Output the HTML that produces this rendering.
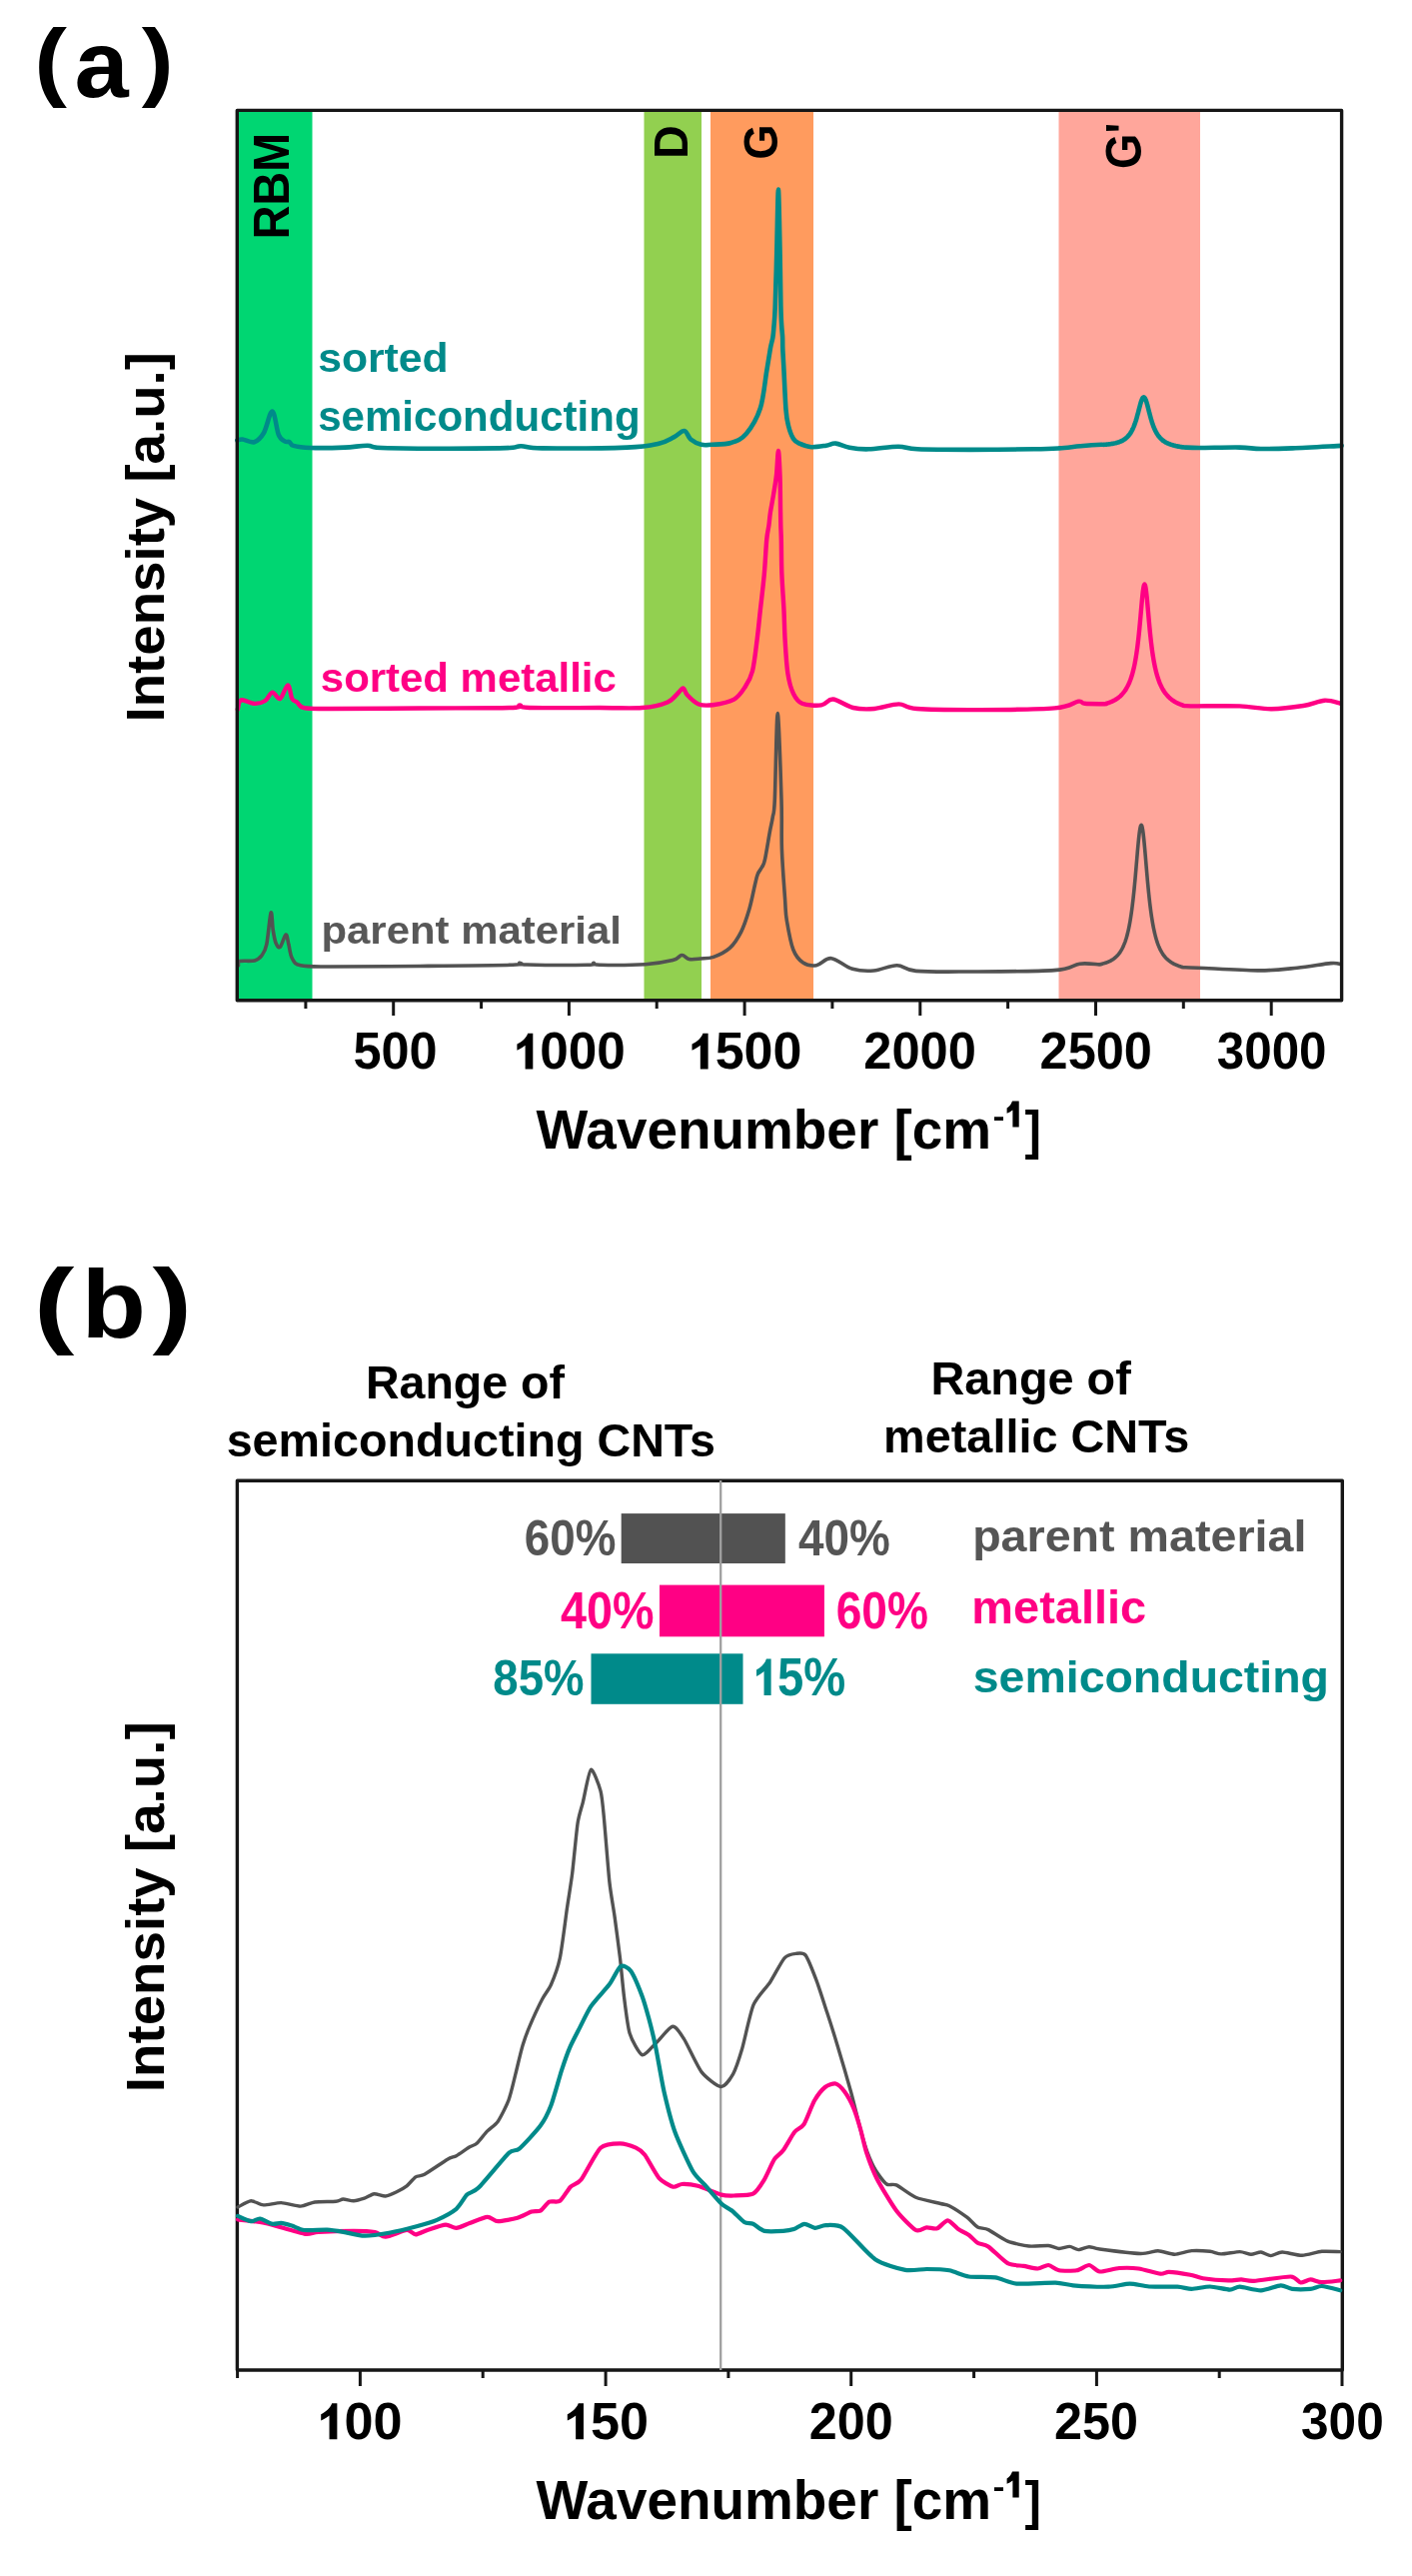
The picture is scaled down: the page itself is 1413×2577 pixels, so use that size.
<!DOCTYPE html>
<html><head><meta charset="utf-8"><title>Raman spectra</title>
<style>html,body{margin:0;padding:0;background:#fff;width:1413px;height:2577px;overflow:hidden}
body{position:relative;font-family:"Liberation Sans",sans-serif}</style></head>
<body>
<svg width="1413" height="2577" viewBox="0 0 1413 2577" style="position:absolute;left:0;top:0;filter:blur(0.55px)">
<g font-family="Liberation Sans" font-weight="bold" font-size="100">
<rect x="239" y="111" width="73.5" height="889" fill="#00d672"/>
<rect x="644.5" y="111" width="57.5" height="889" fill="#92d050"/>
<rect x="711" y="111" width="103" height="889" fill="#ff9b5e"/>
<rect x="1059.5" y="111" width="141.5" height="889" fill="#ffa69b"/>
<text transform="matrix(0 -0.46729 0.49275 0 288.50 239.27)" fill="#000" >RBM</text>
<text transform="matrix(0 -0.46393 0.47246 0 687.60 158.75)" fill="#000" >D</text>
<text transform="matrix(0 -0.45588 0.47465 0 777.53 159.82)" fill="#000" >G</text>
<text transform="matrix(0 -0.45543 0.49437 0 1142.21 169.02)" fill="#000" >G'</text>
<path d="M237.4,440.5 C238.3,440.3 239.9,439.2 242.7,439.5 C245.5,439.8 250.8,443.3 254.4,442.2 C257.9,441.1 261.0,438.1 264.0,433.0 C267.0,427.9 270.0,411.1 272.5,411.5 C275.0,411.9 276.8,430.2 278.9,435.2 C281.0,440.2 283.4,440.5 285.2,441.6 C287.0,442.7 288.1,441.3 289.5,442.0 C290.9,442.7 290.2,444.9 293.7,445.9 C297.2,446.9 302.1,447.7 310.7,448.0 C319.2,448.3 335.4,448.0 345.0,447.6 C354.6,447.2 360.8,445.7 368.0,445.8 C375.2,445.9 366.0,447.8 388.0,448.2 C410.0,448.6 477.8,448.7 500.0,448.4 C522.2,448.1 514.1,446.3 521.2,446.3 C528.3,446.3 524.8,448.2 542.5,448.4 C560.2,448.6 608.0,448.4 627.5,447.6 C647.0,446.8 651.5,445.4 659.3,443.7 C667.1,442.0 670.0,439.5 674.2,437.4 C678.5,435.3 682.0,430.6 684.8,431.0 C687.6,431.4 688.4,437.2 691.2,439.5 C694.0,441.8 698.3,443.9 701.8,444.8 C705.3,445.7 707.5,445.1 712.4,444.8 C717.3,444.5 725.7,444.8 731.4,443.0 C737.1,441.2 741.8,439.8 746.7,434.0 C751.6,428.2 757.4,418.9 760.8,408.5 C764.2,398.1 765.5,381.3 767.2,371.3 C768.9,361.3 769.9,354.3 770.9,348.6 C771.9,342.9 772.8,341.1 773.4,337.3 C774.0,333.5 774.1,331.1 774.5,326.0 C774.9,320.9 775.2,319.7 775.7,307.0 C776.2,294.3 776.8,269.6 777.3,250.0 C777.8,230.4 778.4,189.5 778.9,189.5 C779.4,189.5 780.1,230.4 780.5,250.0 C780.9,269.6 781.1,294.3 781.4,307.0 C781.7,319.7 781.9,320.9 782.2,326.0 C782.5,331.1 782.9,333.5 783.1,337.3 C783.3,341.1 783.1,342.9 783.3,348.6 C783.5,354.3 784.0,361.1 784.5,371.3 C785.0,381.5 785.8,400.9 786.5,410.0 C787.2,419.1 787.8,421.2 789.0,426.0 C790.2,430.8 792.2,436.1 794.0,439.0 C795.8,441.9 797.0,442.3 800.0,443.7 C803.0,445.1 807.4,446.9 811.9,447.2 C816.4,447.5 822.6,446.3 826.7,445.7 C830.8,445.1 832.4,443.2 836.3,443.6 C840.2,444.0 844.6,446.9 850.1,447.8 C855.6,448.8 861.1,449.5 869.2,449.3 C877.4,449.1 890.9,446.7 899.0,446.7 C907.1,446.7 906.1,448.8 918.1,449.3 C930.1,449.8 951.7,449.9 971.2,449.9 C990.7,449.9 1020.1,449.6 1034.9,449.3 C1049.7,449.1 1052.3,448.9 1060.0,448.4 C1067.7,447.9 1074.1,446.9 1081.2,446.3 C1088.3,445.7 1098.6,445.0 1102.5,444.8 C1106.4,444.6 1104.1,444.9 1104.6,444.9 C1105.1,444.9 1105.3,444.8 1105.6,444.8 C1105.9,444.8 1106.3,444.7 1106.6,444.7 C1106.9,444.7 1107.3,444.6 1107.6,444.6 C1107.9,444.6 1108.3,444.5 1108.6,444.5 C1108.9,444.5 1109.3,444.4 1109.6,444.4 C1109.9,444.4 1110.3,444.3 1110.6,444.3 C1110.9,444.2 1111.3,444.2 1111.6,444.1 C1111.9,444.1 1112.3,444.0 1112.6,444.0 C1112.9,443.9 1113.3,443.9 1113.6,443.8 C1113.9,443.7 1114.3,443.7 1114.6,443.6 C1114.9,443.5 1115.3,443.5 1115.6,443.4 C1115.9,443.3 1116.3,443.2 1116.6,443.2 C1116.9,443.1 1117.3,443.0 1117.6,442.9 C1117.9,442.8 1118.3,442.7 1118.6,442.6 C1118.9,442.5 1119.3,442.4 1119.6,442.3 C1119.9,442.2 1120.3,442.0 1120.6,441.9 C1120.9,441.8 1121.3,441.6 1121.6,441.5 C1121.9,441.4 1122.3,441.2 1122.6,441.0 C1122.9,440.9 1123.3,440.7 1123.6,440.5 C1123.9,440.3 1124.3,440.1 1124.6,439.9 C1124.9,439.7 1125.3,439.5 1125.6,439.3 C1125.9,439.0 1126.3,438.8 1126.6,438.5 C1126.9,438.2 1127.3,437.9 1127.6,437.6 C1127.9,437.3 1128.3,437.0 1128.6,436.6 C1128.9,436.3 1129.3,435.9 1129.6,435.5 C1129.9,435.1 1130.3,434.7 1130.6,434.2 C1130.9,433.7 1131.3,433.2 1131.6,432.7 C1131.9,432.1 1132.3,431.6 1132.6,431.0 C1132.9,430.3 1133.3,429.7 1133.6,429.0 C1133.9,428.2 1134.3,427.5 1134.6,426.7 C1134.9,425.8 1135.3,425.0 1135.6,424.0 C1135.9,423.1 1136.3,422.1 1136.6,421.1 C1136.9,420.0 1137.3,418.9 1137.6,417.8 C1137.9,416.6 1138.3,415.4 1138.6,414.1 C1138.9,412.9 1139.3,411.6 1139.6,410.3 C1139.9,409.1 1140.3,407.7 1140.6,406.5 C1140.9,405.3 1141.3,404.0 1141.6,402.9 C1141.9,401.8 1142.3,400.8 1142.6,400.0 C1142.9,399.2 1143.3,398.5 1143.6,398.0 C1143.9,397.6 1144.3,397.4 1144.6,397.4 C1144.9,397.4 1145.3,397.7 1145.6,398.1 C1145.9,398.6 1146.3,399.3 1146.6,400.1 C1146.9,401.0 1147.3,402.0 1147.6,403.1 C1147.9,404.2 1148.3,405.5 1148.6,406.8 C1148.9,408.0 1149.3,409.4 1149.6,410.7 C1149.9,412.0 1150.3,413.3 1150.6,414.5 C1150.9,415.8 1151.3,417.0 1151.6,418.2 C1151.9,419.4 1152.3,420.5 1152.6,421.6 C1152.9,422.7 1153.3,423.7 1153.6,424.6 C1153.9,425.6 1154.3,426.5 1154.6,427.3 C1154.9,428.2 1155.3,428.9 1155.6,429.7 C1155.9,430.4 1156.3,431.1 1156.6,431.7 C1156.9,432.4 1157.3,433.0 1157.6,433.5 C1157.9,434.1 1158.3,434.6 1158.6,435.1 C1158.9,435.6 1159.3,436.0 1159.6,436.5 C1159.9,436.9 1160.3,437.3 1160.6,437.7 C1160.9,438.1 1161.3,438.4 1161.6,438.7 C1161.9,439.1 1162.3,439.4 1162.6,439.7 C1162.9,440.0 1163.3,440.2 1163.6,440.5 C1163.9,440.8 1164.3,441.0 1164.6,441.2 C1164.9,441.5 1165.3,441.7 1165.6,441.9 C1165.9,442.1 1166.3,442.3 1166.6,442.5 C1166.9,442.7 1167.3,442.8 1167.6,443.0 C1167.9,443.2 1168.3,443.3 1168.6,443.5 C1168.9,443.6 1169.3,443.8 1169.6,443.9 C1169.9,444.1 1170.3,444.2 1170.6,444.3 C1170.9,444.4 1171.3,444.6 1171.6,444.7 C1171.9,444.8 1172.3,444.9 1172.6,445.0 C1172.9,445.1 1173.3,445.2 1173.6,445.3 C1173.9,445.4 1174.3,445.5 1174.6,445.6 C1174.9,445.7 1175.3,445.7 1175.6,445.8 C1175.9,445.9 1176.3,446.0 1176.6,446.1 C1176.9,446.1 1177.3,446.2 1177.6,446.3 C1177.9,446.4 1178.3,446.4 1178.6,446.5 C1178.9,446.6 1179.3,446.6 1179.6,446.7 C1179.9,446.8 1180.3,446.8 1180.6,446.9 C1180.9,446.9 1181.3,447.0 1181.6,447.0 C1181.9,447.1 1182.3,447.1 1182.6,447.2 C1182.9,447.2 1183.3,447.3 1183.6,447.3 C1183.9,447.4 1181.8,447.4 1184.6,447.5 C1187.4,447.6 1190.9,448.0 1200.2,448.0 C1209.5,448.0 1230.3,447.4 1240.6,447.6 C1250.9,447.8 1252.9,448.9 1261.8,449.0 C1270.7,449.1 1280.2,448.9 1293.7,448.4 C1307.2,447.9 1334.4,446.3 1342.6,445.9" fill="none" stroke="#008a8a" stroke-width="4.6" stroke-linejoin="round" stroke-linecap="round"/>
<path d="M237.8,709.6 C238.4,708.1 238.5,701.4 241.3,700.4 C244.1,699.4 250.8,703.8 254.8,703.9 C258.8,704.0 262.4,702.9 265.4,701.0 C268.3,699.1 270.0,692.9 272.5,692.6 C275.0,692.3 277.7,700.2 280.3,699.0 C282.9,697.8 286.0,685.5 288.0,685.5 C290.0,685.5 290.8,696.2 292.3,699.0 C293.9,701.8 295.3,701.0 297.3,702.5 C299.3,704.0 298.9,707.1 304.4,708.2 C309.8,709.3 310.7,709.0 330.0,709.0 C349.3,709.0 390.0,708.7 420.0,708.5 C450.0,708.3 493.3,708.5 510.0,708.0 C526.7,707.5 516.7,705.5 520.0,705.5 C523.3,705.5 516.7,707.6 530.0,708.0 C543.3,708.4 581.2,708.0 600.0,708.0 C618.8,708.0 631.2,708.9 642.5,708.0 C653.8,707.1 661.9,705.0 668.0,702.4 C674.1,699.8 676.6,694.8 679.3,692.5 C681.9,690.2 682.5,688.0 683.9,688.5 C685.3,689.0 685.2,692.6 687.8,695.3 C690.3,698.0 695.0,702.9 699.2,704.5 C703.5,706.1 707.4,706.0 713.3,705.2 C719.2,704.4 729.2,702.7 734.6,699.6 C740.0,696.5 742.8,691.5 745.9,686.8 C749.0,682.1 751.0,679.0 753.0,671.2 C755.0,663.4 756.3,650.1 757.6,640.0 C758.9,629.9 759.6,621.6 760.8,610.8 C762.0,600.0 763.6,587.2 764.7,575.4 C765.8,563.6 766.4,548.4 767.2,540.0 C768.0,531.6 768.9,529.7 769.5,525.0 C770.1,520.3 770.2,517.0 771.0,512.0 C771.8,507.0 773.0,501.2 774.0,495.0 C775.0,488.8 776.2,482.3 777.0,475.0 C777.8,467.7 778.3,451.0 778.9,451.0 C779.5,451.0 780.1,465.7 780.5,475.0 C780.9,484.3 780.9,498.7 781.0,507.0 C781.1,515.3 781.2,519.5 781.3,525.0 C781.4,530.5 781.6,531.7 781.8,540.0 C782.0,548.3 781.9,563.2 782.4,575.0 C782.9,586.8 784.0,600.2 784.5,611.0 C785.0,621.8 785.0,629.5 785.6,640.0 C786.2,650.5 787.0,665.0 788.4,674.0 C789.8,683.0 791.6,689.0 794.0,694.0 C796.4,699.0 798.1,701.8 802.7,703.7 C807.4,705.6 816.8,706.1 821.9,705.4 C827.0,704.7 828.3,699.1 833.6,699.5 C838.9,699.9 846.8,706.4 853.7,708.0 C860.6,709.6 867.4,709.6 875.0,709.0 C882.6,708.4 892.3,704.4 899.4,704.4 C906.5,704.4 903.9,708.0 917.5,709.0 C931.1,710.0 958.2,710.2 981.2,710.1 C1004.2,710.0 1039.3,709.8 1055.6,708.4 C1071.9,707.0 1074.1,702.5 1079.1,701.7 C1084.1,700.9 1081.1,703.4 1085.5,703.8 C1089.9,704.2 1101.9,704.2 1105.4,704.3 C1108.9,704.3 1106.1,704.1 1106.4,704.0 C1106.7,703.9 1107.1,703.8 1107.4,703.7 C1107.7,703.6 1108.1,703.5 1108.4,703.4 C1108.7,703.3 1109.1,703.2 1109.4,703.1 C1109.7,702.9 1110.1,702.8 1110.4,702.7 C1110.7,702.6 1111.1,702.4 1111.4,702.3 C1111.7,702.2 1112.1,702.0 1112.4,701.9 C1112.7,701.7 1113.1,701.6 1113.4,701.4 C1113.7,701.3 1114.1,701.1 1114.4,700.9 C1114.7,700.8 1115.1,700.6 1115.4,700.4 C1115.7,700.2 1116.1,700.0 1116.4,699.8 C1116.7,699.6 1117.1,699.4 1117.4,699.2 C1117.7,699.0 1118.1,698.8 1118.4,698.5 C1118.7,698.3 1119.1,698.0 1119.4,697.8 C1119.7,697.5 1120.1,697.2 1120.4,697.0 C1120.7,696.7 1121.1,696.4 1121.4,696.1 C1121.7,695.7 1122.1,695.4 1122.4,695.1 C1122.7,694.7 1123.1,694.4 1123.4,694.0 C1123.7,693.6 1124.1,693.2 1124.4,692.8 C1124.7,692.4 1125.1,691.9 1125.4,691.5 C1125.7,691.0 1126.1,690.5 1126.4,690.0 C1126.7,689.5 1127.1,688.9 1127.4,688.4 C1127.7,687.8 1128.1,687.2 1128.4,686.5 C1128.7,685.9 1129.1,685.2 1129.4,684.5 C1129.7,683.8 1130.1,683.0 1130.4,682.2 C1130.7,681.4 1131.1,680.5 1131.4,679.6 C1131.7,678.7 1132.1,677.7 1132.4,676.6 C1132.7,675.6 1133.1,674.4 1133.4,673.2 C1133.7,672.0 1134.1,670.7 1134.4,669.3 C1134.7,667.9 1135.1,666.4 1135.4,664.8 C1135.7,663.1 1136.1,661.4 1136.4,659.4 C1136.7,657.5 1137.1,655.5 1137.4,653.2 C1137.7,651.0 1138.1,648.6 1138.4,645.9 C1138.7,643.3 1139.1,640.4 1139.4,637.4 C1139.7,634.3 1140.1,631.0 1140.4,627.5 C1140.7,624.1 1141.1,620.3 1141.4,616.6 C1141.7,612.9 1142.1,608.9 1142.4,605.3 C1142.7,601.6 1143.1,597.8 1143.4,594.8 C1143.7,591.8 1144.1,589.0 1144.4,587.3 C1144.7,585.6 1145.1,584.5 1145.4,584.5 C1145.7,584.5 1146.1,585.6 1146.4,587.3 C1146.7,589.1 1147.1,591.9 1147.4,594.9 C1147.7,597.9 1148.1,601.8 1148.4,605.4 C1148.7,609.0 1149.1,613.1 1149.4,616.8 C1149.7,620.5 1150.1,624.3 1150.4,627.8 C1150.7,631.2 1151.1,634.6 1151.4,637.6 C1151.7,640.7 1152.1,643.6 1152.4,646.2 C1152.7,648.9 1153.1,651.3 1153.4,653.6 C1153.7,655.9 1154.1,657.9 1154.4,659.9 C1154.7,661.8 1155.1,663.6 1155.4,665.2 C1155.7,666.9 1156.1,668.4 1156.4,669.8 C1156.7,671.2 1157.1,672.5 1157.4,673.8 C1157.7,675.0 1158.1,676.1 1158.4,677.2 C1158.7,678.3 1159.1,679.3 1159.4,680.2 C1159.7,681.2 1160.1,682.1 1160.4,682.9 C1160.7,683.7 1161.1,684.5 1161.4,685.2 C1161.7,686.0 1162.1,686.7 1162.4,687.3 C1162.7,688.0 1163.1,688.6 1163.4,689.2 C1163.7,689.8 1164.1,690.3 1164.4,690.9 C1164.7,691.4 1165.1,691.9 1165.4,692.4 C1165.7,692.9 1166.1,693.3 1166.4,693.8 C1166.7,694.2 1167.1,694.6 1167.4,695.0 C1167.7,695.4 1168.1,695.8 1168.4,696.1 C1168.7,696.5 1169.1,696.8 1169.4,697.2 C1169.7,697.5 1170.1,697.8 1170.4,698.1 C1170.7,698.4 1171.1,698.7 1171.4,699.0 C1171.7,699.2 1172.1,699.5 1172.4,699.8 C1172.7,700.0 1173.1,700.3 1173.4,700.5 C1173.7,700.7 1174.1,701.0 1174.4,701.2 C1174.7,701.4 1175.1,701.6 1175.4,701.8 C1175.7,702.0 1176.1,702.2 1176.4,702.4 C1176.7,702.6 1177.1,702.7 1177.4,702.9 C1177.7,703.1 1178.1,703.3 1178.4,703.4 C1178.7,703.6 1179.1,703.7 1179.4,703.9 C1179.7,704.0 1180.1,704.2 1180.4,704.3 C1180.7,704.5 1181.1,704.6 1181.4,704.7 C1181.7,704.9 1182.1,705.0 1182.4,705.1 C1182.7,705.2 1183.1,705.3 1183.4,705.5 C1183.7,705.6 1184.1,705.7 1184.4,705.8 C1184.7,705.9 1183.1,706.0 1185.4,706.1 C1187.7,706.2 1188.9,706.4 1198.1,706.4 C1207.3,706.4 1228.2,705.9 1240.6,706.4 C1253.0,706.9 1261.8,709.3 1272.4,709.2 C1283.0,709.1 1295.4,707.4 1304.3,706.0 C1313.2,704.6 1319.4,701.1 1325.6,700.7 C1331.8,700.3 1338.8,703.3 1341.5,703.8" fill="none" stroke="#ff0084" stroke-width="4.4" stroke-linejoin="round" stroke-linecap="round"/>
<path d="M238.5,965.8 C238.7,965.1 237.2,962.4 239.9,961.6 C242.6,960.8 251.1,961.9 254.8,960.9 C258.5,959.9 259.9,958.6 261.9,955.9 C263.9,953.2 265.3,951.8 266.8,944.6 C268.3,937.5 270.0,915.4 271.1,913.0 C272.2,910.6 272.4,925.4 273.2,930.4 C274.0,935.4 274.8,940.4 276.0,943.2 C277.2,946.0 278.6,948.8 280.3,947.4 C282.0,946.0 284.6,935.5 286.0,935.0 C287.4,934.5 287.8,940.6 288.8,944.6 C289.9,948.6 290.3,955.2 292.3,958.7 C294.3,962.2 294.5,964.4 300.8,965.8 C307.1,967.2 310.1,966.9 330.0,967.0 C349.9,967.1 389.5,966.8 420.0,966.5 C450.5,966.2 496.3,965.8 513.0,965.2 C529.7,964.7 517.7,963.2 520.0,963.2 C522.3,963.2 515.7,964.7 527.0,965.0 C538.3,965.3 576.8,965.5 588.0,965.2 C599.2,964.9 592.0,963.4 594.0,963.4 C596.0,963.4 591.4,965.1 600.0,965.3 C608.6,965.5 633.4,965.5 645.6,964.7 C657.8,963.9 667.2,962.1 673.3,960.6 C679.4,959.1 679.6,955.7 682.3,955.5 C685.0,955.3 686.5,958.9 689.6,959.5 C692.7,960.1 696.9,959.4 701.0,959.0 C705.1,958.6 709.1,959.2 714.0,957.4 C718.9,955.6 725.7,952.6 730.3,948.4 C734.9,944.2 738.4,938.6 741.7,932.1 C745.0,925.6 747.6,917.1 749.9,909.3 C752.2,901.4 754.1,890.8 755.5,885.0 C756.9,879.2 757.1,877.4 758.3,874.4 C759.5,871.4 761.4,869.7 762.6,867.3 C763.8,864.9 764.1,866.1 765.4,860.2 C766.7,854.3 769.1,839.0 770.4,831.9 C771.7,824.8 772.4,823.0 773.2,817.7 C774.0,812.4 774.5,817.4 775.3,800.0 C776.1,782.6 777.1,713.5 778.2,713.5 C779.3,713.5 781.3,777.3 782.0,800.0 C782.7,822.7 781.8,832.9 782.4,849.6 C783.0,866.3 784.8,888.1 785.6,900.0 C786.4,911.9 785.9,912.4 787.3,920.7 C788.7,929.0 791.1,943.0 793.8,950.0 C796.5,957.0 799.7,960.4 803.6,963.0 C807.5,965.6 812.3,966.4 817.0,965.7 C821.7,965.0 825.9,958.1 831.9,958.7 C837.9,959.3 846.0,967.2 853.1,969.3 C860.2,971.3 867.0,971.6 874.4,971.0 C881.8,970.4 890.6,965.6 897.7,965.7 C904.8,965.8 904.8,970.4 916.8,971.4 C928.8,972.4 947.0,972.1 970.0,972.0 C993.0,971.9 1036.6,971.9 1055.0,970.6 C1073.4,969.3 1072.9,965.2 1080.4,964.2 C1087.9,963.2 1096.6,964.8 1100.1,964.9 C1103.5,964.9 1100.8,964.7 1101.1,964.7 C1101.4,964.6 1101.8,964.5 1102.1,964.4 C1102.4,964.3 1102.8,964.3 1103.1,964.2 C1103.4,964.1 1103.8,964.0 1104.1,963.9 C1104.4,963.8 1104.8,963.7 1105.1,963.6 C1105.4,963.5 1105.8,963.4 1106.1,963.3 C1106.4,963.2 1106.8,963.1 1107.1,963.0 C1107.4,962.8 1107.8,962.7 1108.1,962.6 C1108.4,962.5 1108.8,962.3 1109.1,962.2 C1109.4,962.0 1109.8,961.9 1110.1,961.7 C1110.4,961.6 1110.8,961.4 1111.1,961.2 C1111.4,961.1 1111.8,960.9 1112.1,960.7 C1112.4,960.5 1112.8,960.3 1113.1,960.1 C1113.4,959.9 1113.8,959.7 1114.1,959.4 C1114.4,959.2 1114.8,959.0 1115.1,958.7 C1115.4,958.4 1115.8,958.2 1116.1,957.9 C1116.4,957.6 1116.8,957.3 1117.1,957.0 C1117.4,956.7 1117.8,956.3 1118.1,956.0 C1118.4,955.6 1118.8,955.3 1119.1,954.9 C1119.4,954.5 1119.8,954.0 1120.1,953.6 C1120.4,953.2 1120.8,952.7 1121.1,952.2 C1121.4,951.7 1121.8,951.1 1122.1,950.6 C1122.4,950.0 1122.8,949.4 1123.1,948.8 C1123.4,948.1 1123.8,947.4 1124.1,946.7 C1124.4,946.0 1124.8,945.2 1125.1,944.3 C1125.4,943.5 1125.8,942.6 1126.1,941.7 C1126.4,940.7 1126.8,939.7 1127.1,938.6 C1127.4,937.4 1127.8,936.3 1128.1,935.0 C1128.4,933.7 1128.8,932.3 1129.1,930.9 C1129.4,929.4 1129.8,927.8 1130.1,926.1 C1130.4,924.3 1130.8,922.5 1131.1,920.5 C1131.4,918.5 1131.8,916.4 1132.1,914.1 C1132.4,911.8 1132.8,909.3 1133.1,906.6 C1133.4,904.0 1133.8,901.2 1134.1,898.1 C1134.4,895.1 1134.8,891.9 1135.1,888.5 C1135.4,885.1 1135.8,881.5 1136.1,877.8 C1136.4,874.0 1136.8,870.1 1137.1,866.2 C1137.4,862.4 1137.8,858.3 1138.1,854.5 C1138.4,850.6 1138.8,846.7 1139.1,843.3 C1139.4,839.9 1139.8,836.5 1140.1,833.9 C1140.4,831.3 1140.8,829.0 1141.1,827.6 C1141.4,826.2 1141.8,825.4 1142.1,825.4 C1142.4,825.4 1142.8,826.2 1143.1,827.7 C1143.4,829.1 1143.8,831.4 1144.1,834.0 C1144.4,836.7 1144.8,840.0 1145.1,843.5 C1145.4,846.9 1145.8,850.9 1146.1,854.7 C1146.4,858.6 1146.8,862.7 1147.1,866.6 C1147.4,870.5 1147.8,874.4 1148.1,878.2 C1148.4,881.9 1148.8,885.5 1149.1,888.9 C1149.4,892.4 1149.8,895.6 1150.1,898.7 C1150.4,901.7 1150.8,904.6 1151.1,907.3 C1151.4,909.9 1151.8,912.4 1152.1,914.8 C1152.4,917.1 1152.8,919.2 1153.1,921.3 C1153.4,923.3 1153.8,925.1 1154.1,926.9 C1154.4,928.6 1154.8,930.2 1155.1,931.7 C1155.4,933.2 1155.8,934.6 1156.1,935.9 C1156.4,937.2 1156.8,938.4 1157.1,939.6 C1157.4,940.7 1157.8,941.7 1158.1,942.7 C1158.4,943.7 1158.8,944.6 1159.1,945.5 C1159.4,946.4 1159.8,947.2 1160.1,947.9 C1160.4,948.7 1160.8,949.4 1161.1,950.0 C1161.4,950.7 1161.8,951.3 1162.1,951.9 C1162.4,952.5 1162.8,953.1 1163.1,953.6 C1163.4,954.1 1163.8,954.6 1164.1,955.1 C1164.4,955.6 1164.8,956.0 1165.1,956.4 C1165.4,956.8 1165.8,957.2 1166.1,957.6 C1166.4,958.0 1166.8,958.3 1167.1,958.7 C1167.4,959.0 1167.8,959.3 1168.1,959.6 C1168.4,960.0 1168.8,960.2 1169.1,960.5 C1169.4,960.8 1169.8,961.1 1170.1,961.3 C1170.4,961.6 1170.8,961.8 1171.1,962.0 C1171.4,962.3 1171.8,962.5 1172.1,962.7 C1172.4,962.9 1172.8,963.1 1173.1,963.3 C1173.4,963.5 1173.8,963.7 1174.1,963.9 C1174.4,964.1 1174.8,964.2 1175.1,964.4 C1175.4,964.6 1175.8,964.7 1176.1,964.9 C1176.4,965.0 1176.8,965.2 1177.1,965.3 C1177.4,965.5 1177.8,965.6 1178.1,965.7 C1178.4,965.9 1178.8,966.0 1179.1,966.1 C1179.4,966.2 1179.8,966.4 1180.1,966.5 C1180.4,966.6 1180.8,966.7 1181.1,966.8 C1181.4,966.9 1181.8,967.0 1182.1,967.1 C1182.4,967.2 1182.8,967.3 1183.1,967.4 C1183.4,967.5 1181.4,967.6 1184.1,967.7 C1186.8,967.8 1186.6,967.7 1199.0,968.2 C1211.4,968.7 1242.0,970.9 1258.5,970.9 C1275.0,970.9 1285.9,969.4 1298.1,968.2 C1310.3,967.0 1324.5,964.2 1331.8,963.6 C1339.1,963.0 1340.0,964.4 1341.7,964.6" fill="none" stroke="#525252" stroke-width="3.6" stroke-linejoin="round" stroke-linecap="round"/>
<rect x="237.3" y="110.4" width="1105.3" height="890.3" fill="none" stroke="#161616" stroke-width="3.4" stroke-linejoin="round"/>
<line x1="305.9" y1="1001" x2="305.9" y2="1009" stroke="#161616" stroke-width="3"/>
<line x1="393.7" y1="1001" x2="393.7" y2="1016" stroke="#161616" stroke-width="3"/>
<line x1="481.6" y1="1001" x2="481.6" y2="1009" stroke="#161616" stroke-width="3"/>
<line x1="569.4" y1="1001" x2="569.4" y2="1016" stroke="#161616" stroke-width="3"/>
<line x1="657.2" y1="1001" x2="657.2" y2="1009" stroke="#161616" stroke-width="3"/>
<line x1="745.1" y1="1001" x2="745.1" y2="1016" stroke="#161616" stroke-width="3"/>
<line x1="832.9" y1="1001" x2="832.9" y2="1009" stroke="#161616" stroke-width="3"/>
<line x1="920.8" y1="1001" x2="920.8" y2="1016" stroke="#161616" stroke-width="3"/>
<line x1="1008.6" y1="1001" x2="1008.6" y2="1009" stroke="#161616" stroke-width="3"/>
<line x1="1096.5" y1="1001" x2="1096.5" y2="1016" stroke="#161616" stroke-width="3"/>
<line x1="1184.3" y1="1001" x2="1184.3" y2="1009" stroke="#161616" stroke-width="3"/>
<line x1="1272.2" y1="1001" x2="1272.2" y2="1016" stroke="#161616" stroke-width="3"/>
<text transform="matrix(0.98214 0 0 0.87021 34.29 90.43)" fill="#000" >(</text>
<text transform="matrix(0.97358 0 0 0.93636 74.48 97.06)" fill="#000" >a</text>
<text transform="matrix(0.95714 0 0 0.87021 141.70 90.43)" fill="#000" >)</text>
<text transform="matrix(0.42678 0 0 0.41216 318.19 371.59)" fill="#008a8a" >sorted</text>
<text transform="matrix(0.42050 0 0 0.42553 318.22 431.06)" fill="#008a8a" >semiconducting</text>
<text transform="matrix(0.41946 0 0 0.41081 320.82 692.39)" fill="#ff0084" >sorted metallic</text>
<text transform="matrix(0.41906 0 0 0.39149 321.47 944.18)" fill="#585858" >parent material</text>
<text transform="matrix(0 -0.54647 0.53085 0 164.25 722.43)" fill="#000" >Intensity [a.u.]</text>
<text transform="matrix(0.50438 0 0 0.51690 353.39 1069.38)" fill="#000" >500</text>
<g transform="matrix(0.51304 0 0 0.51690 511.76 1069.38)" fill="#000"><path d="M27,0 H42 V-69 H32 C29,-60 21,-53 11,-48 V-36 C18,-39 23,-42 27,-45.5 Z"/><text x="55.62" y="0">000</text></g>
<g transform="matrix(0.51981 0 0 0.51690 686.78 1069.38)" fill="#000"><path d="M27,0 H42 V-69 H32 C29,-60 21,-53 11,-48 V-36 C18,-39 23,-42 27,-45.5 Z"/><text x="55.62" y="0">500</text></g>
<text transform="matrix(0.50605 0 0 0.51690 864.28 1069.38)" fill="#000" >2000</text>
<text transform="matrix(0.50512 0 0 0.51690 1040.58 1069.38)" fill="#000" >2500</text>
<text transform="matrix(0.49306 0 0 0.51690 1217.81 1069.38)" fill="#000" >3000</text>
<text transform="matrix(0.54903 0 0 0.56170 536.60 1148.80)" fill="#000" >Wavenumber [cm</text>
<path transform="translate(0,0)" d="M995,1117.3 h9 v3.6 h-9 Z M1013,1101.6 L1019.7,1101.6 L1019.7,1127.5 L1013.4,1127.5 L1013.4,1110.5 Q1010.5,1112.8 1007.6,1113.8 L1007.6,1108.6 Q1011.2,1106.6 1013,1101.6 Z" fill="#000"/>
<text transform="matrix(0.49259 0 0 0.53298 1025.41 1149.41)" fill="#000" >]</text>
<text transform="matrix(0.54903 0 0 0.56170 536.60 2519.80)" fill="#000" >Wavenumber [cm</text>
<path transform="translate(0,1371)" d="M995,1117.3 h9 v3.6 h-9 Z M1013,1101.6 L1019.7,1101.6 L1019.7,1127.5 L1013.4,1127.5 L1013.4,1110.5 Q1010.5,1112.8 1007.6,1113.8 L1007.6,1108.6 Q1011.2,1106.6 1013,1101.6 Z" fill="#000"/>
<text transform="matrix(0.49259 0 0 0.53298 1025.41 2520.41)" fill="#000" >]</text>
<text transform="matrix(1.22143 0 0 0.94149 33.79 1336.33)" fill="#000" >(</text>
<text transform="matrix(1.05600 0 0 0.96438 81.61 1338.30)" fill="#000" >b</text>
<text transform="matrix(1.18929 0 0 0.94149 152.40 1336.33)" fill="#000" >)</text>
<text transform="matrix(0.46556 0 0 0.46277 365.94 1398.78)" fill="#000" >Range of</text>
<text transform="matrix(0.46692 0 0 0.46064 226.63 1456.93)" fill="#000" >semiconducting CNTs</text>
<text transform="matrix(0.46817 0 0 0.46277 931.52 1395.28)" fill="#000" >Range of</text>
<text transform="matrix(0.46812 0 0 0.45541 884.12 1453.14)" fill="#000" >metallic CNTs</text>
<rect x="621.7" y="1514.1" width="164.1" height="49.9" fill="#525252"/>
<rect x="660" y="1585.6" width="164.9" height="51.7" fill="#ff0084"/>
<rect x="591.5" y="1654.3" width="152" height="50.5" fill="#008a8a"/>
<text transform="matrix(0.45803 0 0 0.50704 524.87 1556.19)" fill="#555" >60%</text>
<text transform="matrix(0.45897 0 0 0.50845 798.98 1556.49)" fill="#555" >40%</text>
<text transform="matrix(0.46718 0 0 0.51972 561.07 1628.78)" fill="#ff0084" >40%</text>
<text transform="matrix(0.46062 0 0 0.52254 836.66 1628.98)" fill="#ff0084" >60%</text>
<text transform="matrix(0.45567 0 0 0.50704 493.33 1695.99)" fill="#008a8a" >85%</text>
<g transform="matrix(0.47151 0 0 0.52857 751.81 1695.97)" fill="#008a8a"><path d="M27,0 H42 V-69 H32 C29,-60 21,-53 11,-48 V-36 C18,-39 23,-42 27,-45.5 Z"/><text x="55.62" y="0">5%</text></g>
<text transform="matrix(0.46629 0 0 0.44362 973.14 1552.08)" fill="#555" >parent material</text>
<text transform="matrix(0.46961 0 0 0.45946 972.31 1624.14)" fill="#ff0084" >metallic</text>
<text transform="matrix(0.46468 0 0 0.44681 973.74 1692.62)" fill="#008a8a" >semiconducting</text>
<text transform="matrix(0 -0.54707 0.53085 0 164.25 2093.13)" fill="#000" >Intensity [a.u.]</text>
<rect x="237.4" y="1481.2" width="1105.9" height="889.8" fill="none" stroke="#161616" stroke-width="3.4" stroke-linejoin="round"/>
<line x1="721.2" y1="1481" x2="721.2" y2="2371" stroke="#a0a0a0" stroke-width="2.3"/>
<path d="M238.0,2208.0 C239.5,2207.3 248.2,2202.0 251.2,2201.8 C254.2,2201.6 260.1,2205.7 263.6,2205.9 C267.1,2206.1 277.0,2203.5 281.3,2203.6 C285.6,2203.7 296.9,2207.2 300.8,2207.1 C304.7,2207.0 310.9,2203.6 315.0,2203.0 C319.1,2202.4 332.9,2202.7 336.2,2202.3 C339.5,2202.0 341.2,2200.1 343.3,2200.0 C345.4,2199.9 351.4,2201.9 353.9,2201.8 C356.4,2201.7 362.2,2200.0 364.6,2199.2 C367.0,2198.4 371.8,2195.0 374.3,2194.7 C376.8,2194.4 383.2,2197.2 385.8,2197.0 C388.4,2196.8 393.9,2194.2 396.4,2193.0 C398.9,2191.8 404.7,2188.6 407.0,2186.8 C409.3,2185.0 413.8,2179.3 415.9,2177.9 C418.0,2176.5 421.1,2177.3 424.8,2175.2 C428.5,2173.1 444.1,2162.4 447.8,2160.2 C451.5,2158.0 454.0,2158.1 456.6,2156.7 C459.2,2155.3 467.6,2149.2 470.0,2147.8 C472.4,2146.4 475.0,2146.2 477.1,2144.3 C479.2,2142.4 485.2,2134.5 487.7,2131.9 C490.2,2129.3 495.8,2125.8 498.3,2122.2 C500.8,2118.6 506.9,2106.5 509.0,2100.9 C511.1,2095.3 514.4,2080.8 516.0,2074.4 C517.6,2068.0 521.4,2051.6 523.1,2046.0 C524.8,2040.4 527.9,2032.0 530.2,2026.6 C532.5,2021.2 540.1,2004.8 542.6,2000.0 C545.1,1995.2 549.3,1990.3 551.4,1985.5 C553.5,1980.7 558.4,1967.8 560.3,1958.9 C562.2,1950.0 566.0,1919.2 567.4,1909.3 C568.8,1899.4 571.5,1883.8 572.7,1873.9 C573.9,1864.0 576.8,1832.7 578.0,1824.4 C579.2,1816.1 581.7,1809.4 583.3,1803.1 C584.9,1796.8 589.2,1771.7 591.3,1770.4 C593.4,1769.1 599.4,1785.7 601.0,1791.6 C602.6,1797.5 603.6,1810.2 604.6,1820.8 C605.6,1831.4 608.7,1871.4 609.9,1882.8 C611.1,1894.2 614.0,1909.3 615.2,1918.2 C616.4,1927.1 619.4,1949.7 620.5,1958.9 C621.6,1968.1 623.3,1987.9 624.4,1996.7 C625.5,2005.5 628.0,2027.1 630.1,2034.0 C632.2,2040.9 639.5,2054.4 642.5,2055.6 C645.5,2056.8 652.5,2047.5 656.1,2044.2 C659.7,2040.9 669.8,2027.8 673.1,2027.3 C676.4,2026.8 681.0,2034.4 684.4,2039.7 C687.8,2045.0 697.6,2067.0 701.9,2072.6 C706.2,2078.2 717.8,2087.2 721.5,2087.5 C725.2,2087.8 731.1,2079.2 733.6,2074.8 C736.1,2070.4 740.1,2058.1 742.5,2050.0 C744.9,2041.9 750.7,2013.6 754.0,2005.7 C757.3,1997.8 767.2,1988.2 770.8,1982.7 C774.4,1977.2 782.0,1962.1 785.0,1958.8 C788.0,1955.5 794.0,1954.7 796.5,1954.4 C799.0,1954.1 803.8,1953.0 806.2,1956.1 C808.6,1959.2 814.4,1974.3 816.9,1980.9 C819.4,1987.5 825.0,2005.2 827.5,2012.8 C830.0,2020.4 835.3,2037.1 838.1,2046.4 C840.9,2055.7 848.8,2082.7 851.5,2092.5 C854.2,2102.3 859.1,2122.9 861.0,2130.0 C862.9,2137.1 866.2,2148.3 868.0,2153.1 C869.8,2157.9 874.2,2167.8 876.5,2171.5 C878.8,2175.2 884.9,2183.3 887.3,2185.0 C889.7,2186.7 893.6,2184.3 897.0,2185.9 C900.4,2187.5 911.3,2196.1 916.5,2198.3 C921.7,2200.5 937.4,2203.5 941.3,2204.5 C945.2,2205.5 946.9,2205.1 950.0,2206.7 C953.1,2208.3 964.4,2215.7 967.7,2218.2 C971.0,2220.7 975.8,2226.5 978.3,2227.9 C980.8,2229.3 985.5,2228.9 989.0,2230.6 C992.5,2232.3 1003.7,2240.2 1008.4,2242.1 C1013.1,2244.0 1024.9,2246.5 1029.7,2247.0 C1034.5,2247.5 1045.7,2246.2 1049.2,2246.5 C1052.7,2246.8 1057.3,2249.4 1059.8,2249.5 C1062.3,2249.6 1068.1,2247.3 1070.4,2247.4 C1072.7,2247.5 1076.9,2250.6 1079.2,2250.6 C1081.5,2250.6 1087.4,2247.8 1089.9,2247.7 C1092.4,2247.6 1094.5,2249.2 1100.5,2250.0 C1106.5,2250.8 1134.4,2254.3 1141.2,2254.5 C1148.0,2254.7 1154.9,2251.7 1158.9,2251.8 C1162.9,2251.9 1171.6,2255.2 1175.5,2255.2 C1179.4,2255.2 1188.4,2251.9 1192.5,2251.6 C1196.6,2251.3 1207.4,2251.9 1210.9,2252.3 C1214.4,2252.7 1218.7,2254.9 1222.2,2254.9 C1225.7,2254.9 1237.2,2252.6 1240.7,2252.6 C1244.2,2252.6 1249.5,2255.2 1252.0,2255.2 C1254.5,2255.2 1259.6,2252.8 1261.9,2253.0 C1264.2,2253.2 1269.3,2256.6 1271.8,2256.6 C1274.3,2256.6 1279.5,2253.0 1283.1,2253.0 C1286.7,2253.0 1298.4,2256.4 1303.0,2256.3 C1307.6,2256.2 1318.3,2252.7 1322.8,2252.3 C1327.3,2251.9 1339.1,2252.6 1341.2,2252.6" fill="none" stroke="#525252" stroke-width="3.4" stroke-linejoin="round" stroke-linecap="round"/>
<path d="M238.0,2220.4 C241.2,2220.8 257.7,2222.2 265.4,2223.9 C273.1,2225.6 298.2,2233.6 304.4,2234.6 C310.6,2235.6 312.7,2233.1 318.5,2232.8 C324.3,2232.5 347.3,2231.9 353.9,2231.9 C360.5,2231.9 371.5,2232.4 375.2,2233.1 C378.9,2233.8 382.1,2237.9 385.8,2237.7 C389.5,2237.5 403.5,2231.3 407.0,2231.0 C410.5,2230.7 413.4,2235.4 415.9,2235.4 C418.4,2235.4 424.8,2231.8 428.3,2230.7 C431.8,2229.6 442.7,2225.9 446.0,2225.7 C449.3,2225.5 453.8,2229.1 456.6,2228.9 C459.4,2228.7 466.4,2225.3 470.0,2224.0 C473.6,2222.7 484.4,2218.0 487.7,2217.8 C491.0,2217.6 494.8,2222.1 498.3,2222.2 C501.8,2222.3 513.9,2219.8 517.8,2218.7 C521.7,2217.6 529.3,2213.3 532.0,2212.5 C534.7,2211.7 538.7,2212.7 540.8,2211.6 C542.9,2210.5 547.4,2203.8 549.7,2202.7 C552.0,2201.6 557.8,2203.6 560.3,2201.8 C562.8,2200.1 568.4,2190.2 570.9,2187.7 C573.4,2185.2 578.0,2185.2 581.5,2180.6 C585.0,2176.0 596.5,2152.9 601.0,2148.7 C605.5,2144.5 616.4,2144.3 620.5,2144.3 C624.6,2144.3 633.5,2147.4 636.4,2148.7 C639.3,2150.0 642.6,2152.3 645.3,2155.8 C648.0,2159.3 656.1,2175.1 659.4,2178.8 C662.7,2182.5 670.9,2187.0 673.6,2187.7 C676.3,2188.4 679.6,2185.1 682.5,2185.0 C685.4,2184.9 693.8,2185.6 698.4,2186.8 C703.0,2188.0 717.6,2194.5 721.8,2195.6 C726.0,2196.7 730.5,2196.6 734.2,2196.5 C737.9,2196.4 750.1,2196.5 753.6,2194.7 C757.1,2192.9 761.8,2185.4 764.3,2181.4 C766.8,2177.4 772.6,2163.7 774.9,2160.2 C777.2,2156.7 781.3,2154.5 783.7,2151.3 C786.1,2148.1 792.8,2135.8 795.2,2132.8 C797.6,2129.8 802.2,2128.9 804.5,2125.2 C806.8,2121.5 812.6,2105.6 815.1,2101.3 C817.6,2097.0 823.2,2090.0 825.7,2088.0 C828.2,2086.0 834.0,2084.0 836.3,2084.5 C838.6,2085.0 843.1,2089.7 845.2,2092.5 C847.3,2095.3 852.1,2104.0 854.0,2108.4 C855.9,2112.8 859.6,2124.8 861.1,2130.0 C862.6,2135.2 865.1,2147.3 867.0,2153.1 C868.9,2158.9 874.1,2172.9 877.6,2179.7 C881.1,2186.5 892.5,2205.5 897.0,2211.5 C901.5,2217.5 913.0,2229.0 916.5,2231.0 C920.0,2233.0 924.7,2228.6 927.2,2228.4 C929.7,2228.2 935.3,2230.1 937.8,2229.3 C940.3,2228.5 945.9,2221.2 948.4,2221.3 C950.9,2221.4 956.5,2228.3 959.0,2230.1 C961.5,2231.8 967.7,2234.7 970.0,2236.3 C972.3,2237.9 976.1,2242.5 978.3,2243.8 C980.5,2245.1 985.5,2245.0 989.0,2247.4 C992.5,2249.8 1004.3,2261.9 1008.4,2264.2 C1012.5,2266.5 1020.9,2266.3 1024.4,2266.9 C1027.9,2267.5 1035.6,2269.6 1038.5,2269.5 C1041.4,2269.4 1046.7,2265.8 1049.2,2266.0 C1051.7,2266.2 1056.5,2270.7 1059.8,2271.3 C1063.1,2271.9 1074.0,2271.9 1077.5,2271.3 C1081.0,2270.7 1087.2,2265.9 1089.9,2266.0 C1092.6,2266.1 1097.0,2272.2 1100.5,2272.5 C1104.0,2272.8 1115.5,2269.3 1120.0,2269.0 C1124.5,2268.7 1134.6,2268.8 1139.4,2269.5 C1144.2,2270.2 1157.8,2274.3 1161.3,2274.7 C1164.8,2275.1 1166.3,2272.8 1169.8,2272.9 C1173.3,2273.0 1187.1,2275.0 1191.1,2275.7 C1195.1,2276.4 1199.3,2278.5 1203.8,2279.2 C1208.3,2279.9 1224.8,2281.3 1229.3,2281.4 C1233.8,2281.5 1239.1,2280.4 1242.1,2280.4 C1245.1,2280.4 1249.0,2282.1 1254.8,2281.8 C1260.6,2281.5 1286.1,2277.3 1291.6,2277.5 C1297.1,2277.7 1299.3,2283.2 1301.6,2283.5 C1303.9,2283.8 1309.0,2280.4 1311.5,2280.4 C1314.0,2280.4 1319.3,2283.1 1322.8,2283.2 C1326.3,2283.3 1339.1,2281.6 1341.2,2281.4" fill="none" stroke="#ff0084" stroke-width="4.2" stroke-linejoin="round" stroke-linecap="round"/>
<path d="M238.0,2216.9 C239.5,2217.5 248.6,2221.9 251.2,2222.2 C253.8,2222.5 257.6,2219.2 260.1,2219.5 C262.6,2219.8 270.0,2224.3 272.5,2224.8 C275.0,2225.3 279.0,2223.7 281.3,2223.9 C283.6,2224.1 289.3,2225.8 292.0,2226.6 C294.7,2227.4 300.3,2230.5 304.4,2231.0 C308.5,2231.5 322.7,2230.5 327.4,2230.7 C332.1,2230.9 340.8,2232.4 345.1,2233.1 C349.4,2233.8 359.4,2236.6 364.6,2236.7 C369.8,2236.8 383.3,2234.8 389.3,2233.7 C395.3,2232.6 410.3,2229.0 415.9,2227.5 C421.5,2226.0 432.5,2222.9 437.2,2220.8 C441.9,2218.7 453.1,2212.7 456.6,2209.8 C460.1,2206.9 464.7,2198.1 467.3,2195.6 C469.9,2193.1 474.0,2193.5 478.9,2188.6 C483.8,2183.7 504.3,2158.6 509.0,2154.0 C513.7,2149.4 515.9,2152.8 519.6,2149.6 C523.3,2146.4 537.1,2131.7 540.8,2126.6 C544.5,2121.5 548.9,2112.7 551.4,2106.2 C553.9,2099.7 559.9,2077.5 562.1,2070.8 C564.3,2064.1 567.9,2053.7 570.0,2048.8 C572.1,2043.9 577.7,2033.3 580.2,2028.4 C582.7,2023.5 588.1,2011.9 591.5,2006.9 C594.9,2001.9 606.3,1989.9 609.7,1985.3 C613.1,1980.7 618.5,1968.8 621.0,1967.2 C623.5,1965.6 628.7,1968.3 631.2,1971.7 C633.7,1975.1 640.4,1991.1 642.5,1996.7 C644.6,2002.3 647.7,2013.4 649.3,2019.3 C650.9,2025.2 654.3,2038.9 656.1,2047.6 C657.9,2056.3 662.5,2083.9 664.8,2093.8 C667.1,2103.7 672.1,2123.7 675.4,2132.8 C678.7,2141.9 689.6,2165.5 693.1,2171.7 C696.6,2177.9 702.2,2182.1 705.5,2185.9 C708.8,2189.7 718.7,2201.5 721.8,2204.5 C724.9,2207.5 729.7,2209.3 732.4,2211.5 C735.1,2213.7 742.3,2221.4 744.8,2223.0 C747.3,2224.6 751.2,2223.8 753.6,2224.8 C756.0,2225.8 761.6,2231.1 765.1,2231.9 C768.6,2232.7 780.3,2232.1 783.7,2231.9 C787.1,2231.7 791.9,2230.9 794.4,2230.1 C796.9,2229.3 802.5,2224.9 805.0,2224.8 C807.5,2224.7 813.1,2228.7 815.6,2228.9 C818.1,2229.1 822.9,2226.1 826.2,2226.1 C829.5,2226.1 838.1,2224.9 843.9,2228.9 C849.7,2232.9 868.6,2255.3 875.8,2260.2 C883.0,2265.1 899.9,2269.8 905.9,2270.9 C911.9,2272.0 922.1,2270.0 927.2,2270.0 C932.3,2270.0 945.1,2270.4 950.0,2271.3 C954.9,2272.2 964.1,2276.7 969.5,2277.5 C974.9,2278.3 990.4,2277.6 996.0,2278.4 C1001.6,2279.2 1010.3,2284.0 1017.3,2284.6 C1024.3,2285.2 1049.6,2283.5 1056.2,2283.7 C1062.8,2283.9 1067.7,2285.8 1073.9,2286.3 C1080.1,2286.8 1102.7,2287.9 1109.3,2287.7 C1115.9,2287.5 1125.9,2284.6 1130.6,2284.6 C1135.3,2284.6 1144.4,2287.1 1150.0,2287.5 C1155.6,2287.9 1173.3,2287.4 1178.3,2287.7 C1183.3,2288.0 1188.7,2289.9 1192.5,2289.9 C1196.3,2289.9 1206.4,2287.4 1210.9,2287.5 C1215.4,2287.6 1227.2,2290.6 1230.7,2290.6 C1234.2,2290.6 1237.1,2287.6 1240.7,2287.7 C1244.3,2287.8 1257.1,2291.5 1261.9,2291.3 C1266.7,2291.1 1278.1,2286.5 1281.7,2286.3 C1285.3,2286.1 1289.6,2289.5 1293.1,2289.9 C1296.6,2290.3 1308.0,2290.2 1311.5,2289.9 C1315.0,2289.6 1319.3,2286.8 1322.8,2287.0 C1326.3,2287.2 1339.1,2290.8 1341.2,2291.3" fill="none" stroke="#008a8a" stroke-width="4.2" stroke-linejoin="round" stroke-linecap="round"/>
<line x1="237.6" y1="2371" x2="237.6" y2="2379" stroke="#161616" stroke-width="3"/>
<line x1="360.4" y1="2371" x2="360.4" y2="2387" stroke="#161616" stroke-width="3"/>
<line x1="483.2" y1="2371" x2="483.2" y2="2379" stroke="#161616" stroke-width="3"/>
<line x1="606.1" y1="2371" x2="606.1" y2="2387" stroke="#161616" stroke-width="3"/>
<line x1="728.9" y1="2371" x2="728.9" y2="2379" stroke="#161616" stroke-width="3"/>
<line x1="851.7" y1="2371" x2="851.7" y2="2387" stroke="#161616" stroke-width="3"/>
<line x1="974.6" y1="2371" x2="974.6" y2="2379" stroke="#161616" stroke-width="3"/>
<line x1="1097.4" y1="2371" x2="1097.4" y2="2387" stroke="#161616" stroke-width="3"/>
<line x1="1220.2" y1="2371" x2="1220.2" y2="2379" stroke="#161616" stroke-width="3"/>
<line x1="1343.0" y1="2371" x2="1343.0" y2="2387" stroke="#161616" stroke-width="3"/>
<g transform="matrix(0.52171 0 0 0.52113 315.46 2440.28)" fill="#000"><path d="M27,0 H42 V-69 H32 C29,-60 21,-53 11,-48 V-36 C18,-39 23,-42 27,-45.5 Z"/><text x="55.62" y="0">00</text></g>
<g transform="matrix(0.52171 0 0 0.52113 562.06 2440.28)" fill="#000"><path d="M27,0 H42 V-69 H32 C29,-60 21,-53 11,-48 V-36 C18,-39 23,-42 27,-45.5 Z"/><text x="55.62" y="0">50</text></g>
<text transform="matrix(0.50313 0 0 0.52113 809.69 2440.28)" fill="#000" >200</text>
<text transform="matrix(0.50313 0 0 0.52113 1055.09 2440.28)" fill="#000" >250</text>
<text transform="matrix(0.49565 0 0 0.52113 1302.01 2440.28)" fill="#000" >300</text>
</g></svg>
</body></html>
